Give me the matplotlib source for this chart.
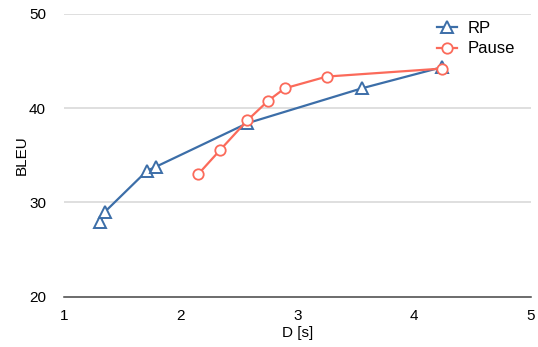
import matplotlib
matplotlib.use("Agg")
import matplotlib.pyplot as plt

# latency (s) vs BLEU
rp_d = [1.31, 1.35, 1.71, 1.79, 2.57, 3.55, 4.24]
rp_bleu = [27.9, 29.0, 33.35, 33.8, 38.4, 42.1, 44.35]
pause_d = [2.15, 2.34, 2.57, 2.75, 2.89, 3.25, 4.24]
pause_bleu = [33.0, 35.6, 38.7, 40.8, 42.1, 43.35, 44.2]

plt.rcParams['font.family'] = ['Liberation Sans', 'DejaVu Sans']

fig = plt.figure(figsize=(5.38, 3.47), dpi=100)
ax = fig.add_axes([0.119, 0.145, 0.868, 0.815])

ax.plot(rp_d, rp_bleu, color='#3c6ea8', lw=1.6, marker='^', markersize=9,
        markerfacecolor='white', markeredgewidth=1.4, label='RP', zorder=3)
ax.plot(pause_d, pause_bleu, color='#fb6a5a', lw=1.6, marker='o', markersize=7.5,
        markerfacecolor='white', markeredgewidth=1.3, label='Pause', zorder=3)

ax.set_xlim(1, 5)
ax.set_ylim(20, 50)
ax.set_xticks([1, 2, 3, 4, 5])
ax.set_yticks([20, 30, 40, 50])
ax.set_xlabel('D [s]', fontsize=11, labelpad=2)
ax.set_ylabel('BLEU', fontsize=11, labelpad=0)

for y in [30, 40, 50]:
    ax.axhline(y, color='#dcdcdc', lw=1.3, zorder=1)

for s in ['top', 'right', 'left']:
    ax.spines[s].set_visible(False)
ax.spines['bottom'].set_color('#444444')
ax.spines['bottom'].set_linewidth(1.1)
ax.tick_params(axis='both', length=0, labelsize=11)
ax.tick_params(axis='x', pad=9)
ax.tick_params(axis='y', pad=13)

ax.legend(loc='upper left', bbox_to_anchor=(0.785, 1.0), frameon=False,
          fontsize=12, handlelength=1.2, handletextpad=0.6,
          borderaxespad=0.0, labelspacing=0.35)

fig.savefig('out.png', dpi=100)
